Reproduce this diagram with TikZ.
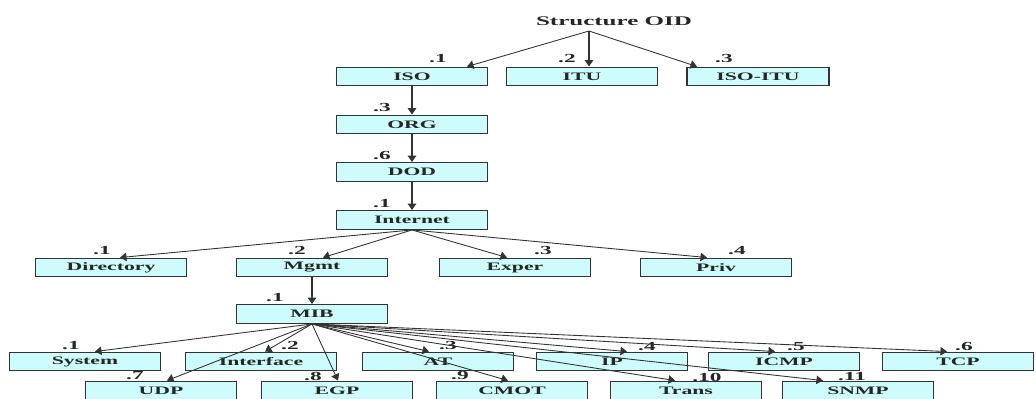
\documentclass[tikz,border=0pt]{standalone}
\usepackage{fontspec}
\newfontfamily\oidfont{Liberation Serif}[FakeStretch=1.9]
\usetikzlibrary{arrows.meta,calc}
\definecolor{colorBox}{RGB}{206,252,252}
\colorlet{colorLine}{black!80}
\colorlet{colorText}{black!85}
\tikzset{
   every path/.style={>={Triangle[length=1.3mm,width=1.7mm]}},
   oid/.style={draw=colorLine, fill=colorBox, line width=0.8pt, minimum width=3.02cm,
               minimum height=0.37cm, inner sep=0pt, text=colorText,
               font=\oidfont\bfseries\fontsize{6.5}{7}\selectfont},
   num/.style={inner sep=0pt, text=colorText, font=\oidfont\bfseries\fontsize{7}{8}\selectfont},
   title/.style={inner sep=0pt, text=colorText, font=\oidfont\bfseries\fontsize{7.5}{8}\selectfont},
   sub/.style={->, draw=colorLine, line width=0.5pt},
   trunk/.style={->, draw=colorLine, line width=0.9pt},
}
\begin{document}
\begin{tikzpicture}[x=0.02cm, y=-0.02cm]
\useasboundingbox (0,0) rectangle (1036,399);

% ------------------------------------------------------------
% Root and first level
% ------------------------------------------------------------
\node[title] (oidroot) at (614,21) {Structure OID};
\coordinate (root) at (589,31);

\node[oid] (iso)    at (412,76.5) {ISO};
\node[oid] (itu)    at (582,76.5) {ITU};
\node[oid, minimum width=2.84cm] (isoitu) at (758,76.5) {ISO-ITU};

\node[num] (n_iso)    at (438,59) {.1};
\node[num] (n_itu)    at (567,59) {.2};
\node[num] (n_isoitu) at (724,59) {.3};

\draw[sub]   (root) -- ($(iso.north)+(55,0)$);
\draw[trunk] (root) -- ($(itu.north)+(7,0)$);
\draw[sub]   (root) -- ($(isoitu.north)+(-61,0)$);

% ------------------------------------------------------------
% ISO / ORG / DOD / Internet
% ------------------------------------------------------------
\node[oid] (org)      at (412,124.5) {ORG};
\node[oid] (dod)      at (412,172)   {DOD};
\node[oid] (internet) at (412,220)   {Internet};

\node[num] (n_org)      at (382,108) {.3};
\node[num] (n_dod)      at (382,156) {.6};
\node[num] (n_internet) at (382,204) {.1};

\draw[trunk] (iso) -- (org);
\draw[trunk] (org) -- (dod);
\draw[trunk] (dod) -- (internet);

% ------------------------------------------------------------
% Internet subtree
% ------------------------------------------------------------
\node[oid] (directory) at (111,267.5) {Directory};
\node[oid] (mgmt)      at (312,267.5) {Mgmt};
\node[oid] (exper)     at (515,267.5) {Exper};
\node[oid] (priv)      at (716,267.5) {Priv};

\node[num] (n_directory) at (102,251) {.1};
\node[num] (n_mgmt)      at (297,251) {.2};
\node[num] (n_exper)     at (543,251) {.3};
\node[num] (n_priv)      at (737,251) {.4};

\draw[sub] (internet.south) -- ($(directory.north)+(9,0)$);
\draw[sub] (internet.south) -- ($(mgmt.north)+(11,0)$);
\draw[sub] (internet.south) -- ($(exper.north)+(-8,0)$);
\draw[sub] (internet.south) -- ($(priv.north)+(-9,0)$);

% MIB
\node[oid] (mib)   at (312,314) {MIB};
\node[num] (n_mib) at (275,298) {.1};
\draw[trunk] (mgmt) -- (mib);

% ------------------------------------------------------------
% MIB subtree
% ------------------------------------------------------------
\node[oid] (system)    at (85,361.5)  {System};
\node[oid] (interface) at (261,361.5) {Interface};
\node[oid] (at)        at (438,361.5) {AT};
\node[oid] (ip)        at (612,361.5) {IP};
\node[oid] (icmp)      at (784,361.5) {ICMP};
\node[oid] (tcp)       at (958,361.5) {TCP};

\node[oid] (udp)   at (161,390.5) {UDP};
\node[oid] (egp)   at (337,390.5) {EGP};
\node[oid] (cmot)  at (512,390.5) {CMOT};
\node[oid] (trans) at (686,390.5) {Trans};
\node[oid] (snmp)  at (858,390.5) {SNMP};

\node[num] (n_system)    at (71,346)  {.1};
\node[num] (n_interface) at (290,346) {.2};
\node[num] (n_at)        at (448,346) {.3};
\node[num] (n_ip)        at (647,347) {.4};
\node[num] (n_icmp)      at (796,347) {.5};
\node[num] (n_tcp)       at (964,347) {.6};
\node[num] (n_udp)       at (135,376) {.7};
\node[num] (n_egp)       at (313,376) {.8};
\node[num] (n_cmot)      at (460,376) {.9};
\node[num] (n_trans)     at (707,377) {.10};
\node[num] (n_snmp)      at (852,377) {.11};

\draw[sub] (mib.south) -- ($(system.north)+(10,0)$);
\draw[sub] (mib.south) -- ($(interface.north)+(4,0)$);
\draw[sub] (mib.south) -- ($(at.north)+(-9,0)$);
\draw[sub] (mib.south) -- ($(ip.north)+(15,0)$);
\draw[sub] (mib.south) -- ($(icmp.north)+(-9,0)$);
\draw[sub] (mib.south) -- ($(tcp.north)+(-11,0)$);
\draw[sub] (mib.south) -- ($(udp.north)+(6,0)$);
\draw[sub] (mib.south) -- ($(egp.north)+(1,0)$);
\draw[sub] (mib.south) -- ($(cmot.north)+(-4,0)$);
\draw[sub] (mib.south) -- ($(trans.north)+(-11,0)$);
\draw[sub] (mib.south) -- ($(snmp.north)+(-35,0)$);
\end{tikzpicture}
\end{document}
